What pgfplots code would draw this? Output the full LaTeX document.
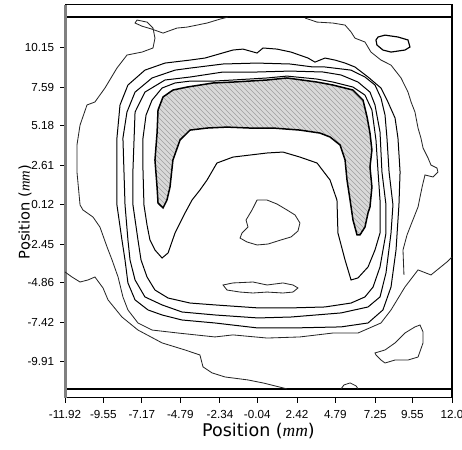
\documentclass[border=0pt]{standalone}
\usepackage{pgfplots}
\pgfplotsset{compat=1.18}
\usepackage{fontspec}
\setmainfont{Liberation Sans}
\newfontfamily\labelfont{DejaVu Sans}
\newfontfamily\seriffont{Liberation Serif}
\usetikzlibrary{patterns}
\begin{document}
\begin{tikzpicture}
\begin{axis}[
  scale only axis, width=232.2pt, height=235.8pt,
  xmin=-11.92, xmax=12.0, ymin=-12.21, ymax=12.83,
  axis line style={black, line width=0.6pt},
  xtick={-11.92,-9.55,-7.17,-4.79,-2.34,-0.04,2.42,4.79,7.25,9.55,12.0},
  xticklabels={-11.92,-9.55,-7.17,-4.79,-2.34,-0.04,2.42,4.79,7.25,9.55,12.0},
  ytick={10.15,7.59,5.18,2.61,0.12,-2.45,-4.86,-7.42,-9.91},
  yticklabels={10.15,7.59,5.18,2.61,0.12,-2.45,-4.86,-7.42,-9.91},
  tick align=outside, xtick pos=bottom, ytick pos=left,
  major tick length=3pt, tick style={black, line width=0.6pt},
  xticklabel style={font=\fontsize{7}{8}\selectfont, yshift=-1pt},
  yticklabel style={font=\fontsize{7}{8}\selectfont},
  xlabel={Position ({\seriffont\itshape mm})},
  ylabel={Position ({\seriffont\itshape mm})},
  xlabel style={at={(axis description cs:0.5,-0.084)}, anchor=center, font=\labelfont\fontsize{10.5}{12}\selectfont},
  ylabel style={at={(axis description cs:-0.103,0.473)}, anchor=center, font=\labelfont\fontsize{8.8}{10}\selectfont},
  clip=false,
]
% frame details
\addplot[black, line width=0.9pt] coordinates {(-11.92,12.06) (12.0,12.06)};
\addplot[black, line width=0.9pt] coordinates {(-11.92,-11.63) (12.0,-11.63)};
\addplot[gray, line width=1.8pt] coordinates {(-11.92,-12.21) (-11.92,12.83)};
\addplot[black, line width=1.2pt] coordinates {(12.0,-12.21) (12.0,12.83)};

% hatched region
\addplot[fill=gray!30, draw=none] coordinates {
(-5.86,6.97) (-5.25,7.41) (-4.38,7.60) (-2.77,7.86) (-1.54,7.92) (0.57,8.05) (1.80,8.18) (3.66,7.92) (4.64,7.73) (5.88,7.41)
(6.50,6.77) (6.75,5.69) (6.93,4.67) (7.05,3.59) (6.93,2.51) (7.05,1.23) (6.93,-0.04) (6.81,-0.42) (6.62,-1.32) (6.31,-1.82)
(6.13,-1.82) (5.88,-0.87) (5.70,0.40) (5.51,1.68) (5.39,2.95) (5.08,3.91) (4.46,4.42) (3.84,4.67) (2.60,4.86) (0.94,4.99)
(-0.49,4.99) (-1.91,5.05) (-3.14,4.99) (-4.19,4.86) (-4.81,4.23) (-5.25,2.95) (-5.43,1.23) (-5.62,0.40) (-5.86,-0.10)
(-6.17,0.21) (-6.23,1.23) (-6.36,2.95) (-6.23,4.67) (-6.17,6.14)} --cycle;
\addplot[pattern=north west lines, pattern color=gray!75, draw=black, line width=0.9pt] coordinates {
(-5.86,6.97) (-5.25,7.41) (-4.38,7.60) (-2.77,7.86) (-1.54,7.92) (0.57,8.05) (1.80,8.18) (3.66,7.92) (4.64,7.73) (5.88,7.41)
(6.50,6.77) (6.75,5.69) (6.93,4.67) (7.05,3.59) (6.93,2.51) (7.05,1.23) (6.93,-0.04) (6.81,-0.42) (6.62,-1.32) (6.31,-1.82)
(6.13,-1.82) (5.88,-0.87) (5.70,0.40) (5.51,1.68) (5.39,2.95) (5.08,3.91) (4.46,4.42) (3.84,4.67) (2.60,4.86) (0.94,4.99)
(-0.49,4.99) (-1.91,5.05) (-3.14,4.99) (-4.19,4.86) (-4.81,4.23) (-5.25,2.95) (-5.43,1.23) (-5.62,0.40) (-5.86,-0.10)
(-6.17,0.21) (-6.23,1.23) (-6.36,2.95) (-6.23,4.67) (-6.17,6.14)} --cycle;

% ring E (U loop)
\addplot[black, line width=0.6pt] coordinates {
(-5.92,-3.29) (-6.36,-2.78) (-6.67,-2.14) (-6.85,-1.19) (-7.04,0.09) (-7.10,2.32) (-7.10,4.35) (-6.91,5.82) (-6.54,6.77)
(-5.92,7.54) (-5.12,7.86) (-4.19,7.98) (-2.77,7.98) (-1.54,8.05) (0.57,8.18) (1.80,8.30) (3.66,8.11) (4.64,7.92) (5.88,7.60)
(6.62,7.09) (7.05,6.14) (7.30,4.23) (7.43,2.19) (7.55,0.40) (7.55,-0.55) (7.55,-1.70) (7.24,-2.78) (6.81,-3.86) (6.19,-4.56)
(5.76,-4.69) (5.39,-3.42) (4.95,-1.70) (4.89,0.40) (4.46,1.68) (3.66,2.76) (2.60,3.14) (1.55,3.46) (0.57,3.40) (-1.54,3.14)
(-2.53,2.76) (-3.14,1.68) (-3.58,1.04) (-4.07,0.40) (-4.50,-0.42) (-5.12,-1.70) (-5.55,-2.97)} --cycle;

% ring D
\addplot[black, line width=0.6pt] coordinates {
(-7.41,-2.14) (-7.72,0.09) (-7.72,2.32) (-7.59,6.01) (-6.98,7.28) (-5.74,8.05) (-4.19,8.24) (-2.15,8.56) (-0.05,8.56)
(1.99,8.62) (4.03,8.56) (5.14,8.37) (6.19,7.92) (6.93,7.28) (7.24,6.46) (7.55,4.74) (7.67,2.19) (7.92,0.09) (7.92,-1.70)
(7.55,-3.86) (7.12,-5.14) (6.62,-5.77) (5.76,-6.16) (4.15,-6.41) (2.05,-6.47) (0.01,-6.47) (-2.65,-6.28) (-4.19,-6.16)
(-5.55,-5.84) (-6.36,-5.33) (-6.85,-4.50) (-7.22,-3.42)} --cycle;

% ring C
\addplot[black, line width=0.6pt] coordinates {
(-8.03,-2.14) (-8.21,0.09) (-8.34,4.35) (-8.09,6.01) (-7.59,7.28) (-6.54,8.18) (-5.12,8.68) (-4.19,8.81) (-2.15,9.07)
(-0.05,9.13) (1.99,9.07) (3.41,8.88) (4.15,8.88) (5.76,8.68) (6.62,8.24) (7.24,7.73) (7.61,6.90) (7.86,5.82) (7.98,4.35)
(8.11,2.19) (8.35,0.09) (8.23,-1.70) (7.92,-4.24) (7.55,-5.77) (6.81,-6.41) (5.14,-6.79) (2.05,-7.05) (0.01,-7.11)
(-2.65,-6.92) (-4.69,-6.73) (-5.92,-6.28) (-6.98,-5.77) (-7.59,-4.69) (-7.90,-3.42)} --cycle;

% ring B
\addplot[black, line width=0.6pt] coordinates {
(-8.40,-2.14) (-8.71,0.09) (-8.71,2.32) (-8.71,4.35) (-8.52,6.46) (-8.03,7.73) (-6.98,8.68) (-5.74,9.13) (-4.19,9.32)
(-3.27,9.45) (-1.54,9.96) (-0.92,10.02) (-0.05,9.77) (0.32,10.09) (1.18,10.02) (2.05,9.83) (3.10,9.45) (3.53,9.19)
(4.15,9.45) (4.77,9.32) (5.39,9.13) (6.00,8.88) (6.81,8.24) (7.61,7.54) (8.04,6.65) (8.48,5.63) (8.66,4.35) (8.79,2.19)
(8.72,0.09) (8.54,-2.78) (8.23,-5.14) (7.73,-6.60) (6.81,-7.43) (5.14,-7.68) (2.05,-7.75) (0.01,-7.75) (-2.65,-7.43)
(-4.69,-7.24) (-5.92,-6.92) (-6.79,-6.60) (-7.59,-5.96) (-8.03,-4.88) (-8.21,-3.42)} --cycle;

% outer contour, main piece
\addplot[black!85, line width=0.5pt] coordinates {
(-1.85,12.06) (-2.34,11.93) (-3.14,11.68) (-4.38,11.42) (-5.00,11.36) (-5.86,11.04) (-6.54,11.29) (-7.16,11.48)
(-7.59,11.68) (-7.47,11.87) (-6.85,11.74) (-6.48,11.36) (-6.36,10.72) (-6.48,10.09) (-7.16,9.83) (-8.09,9.64)
(-8.71,8.81) (-9.45,7.54) (-10.07,6.65) (-10.56,6.46) (-10.99,5.18) (-11.18,3.91) (-11.18,2.19) (-10.99,0.09)
(-10.81,-0.23) (-10.19,-0.68) (-9.76,-1.32) (-9.32,-2.59) (-9.01,-3.42) (-8.64,-4.50) (-8.34,-5.77) (-8.03,-6.60)
(-7.41,-7.43) (-6.54,-7.88) (-4.94,-8.07) (-2.65,-8.32) (-1.54,-8.19) (0.57,-8.39) (2.60,-8.32) (4.64,-8.07)
(6.19,-8.07) (7.61,-7.43) (8.23,-6.60) (9.09,-5.14) (9.90,-4.05) (10.70,-4.37) (11.69,-3.54) (12.00,-3.23)};

% outer contour, top right piece
\addplot[black!85, line width=0.5pt] coordinates {
(2.91,12.00) (3.66,11.74) (4.64,11.68) (5.39,11.55) (5.76,11.11) (6.00,10.72) (6.62,10.47) (6.99,9.83) (7.61,9.32)
(8.23,9.00) (8.85,8.18) (9.28,7.28) (9.47,6.65) (9.71,6.01) (9.90,4.99) (10.08,4.35) (10.21,3.72) (10.52,3.08)
(10.70,2.63) (11.07,2.44) (11.13,2.19) (10.83,1.87) (10.33,2.00) (10.15,1.23) (9.90,-0.04) (9.53,-1.00) (9.22,-1.82)
(8.97,-2.78) (9.03,-4.37)};

% outer contour, bottom left piece
\addplot[black!85, line width=0.5pt] coordinates {
(-11.92,-4.18) (-11.49,-4.50) (-10.99,-4.82) (-10.50,-4.69) (-10.07,-4.50) (-9.57,-5.20) (-9.26,-5.96) (-8.40,-7.05)
(-7.41,-7.88) (-5.92,-8.70) (-4.50,-9.15) (-3.58,-9.47) (-3.39,-10.23) (-2.83,-10.61) (-2.03,-10.87) (-0.61,-11.06)
(0.32,-11.25) (1.80,-11.63)};

% small bump at bottom
\addplot[black!85, line width=0.5pt] coordinates {(5.14,-11.63) (5.32,-11.38) (5.70,-11.25) (6.07,-11.44) (6.19,-11.63)};

% bottom right island
\addplot[black!85, line width=0.5pt] coordinates {
(7.24,-9.34) (7.86,-9.15) (8.48,-8.70) (9.09,-8.07) (9.71,-7.68) (10.02,-7.56) (10.21,-8.00) (10.21,-8.70)
(9.90,-9.60) (9.28,-9.79) (8.48,-9.79) (7.86,-9.98) (7.61,-9.79) (7.30,-9.47)} --cycle;

% top right island
\addplot[black, line width=0.7pt] coordinates {
(7.43,10.79) (7.86,10.91) (8.66,10.79) (9.28,10.60) (9.40,10.15) (9.09,9.96) (8.23,9.83) (7.73,9.96) (7.36,10.28) (7.30,10.60)} --cycle;

% centre island
\addplot[black!85, line width=0.5pt] coordinates {
(-0.05,0.40) (0.57,0.40) (1.18,0.15) (1.80,-0.23) (2.30,-0.55) (2.60,-1.06) (2.48,-1.57) (2.05,-1.95) (1.43,-2.14)
(0.63,-2.40) (-0.05,-2.46) (-0.67,-2.27) (-1.10,-2.02) (-0.98,-1.70) (-0.61,-1.32) (-0.73,-0.87) (-0.36,-0.23)} --cycle;

% bottom centre ellipse
\addplot[black!85, line width=0.5pt] coordinates {
(-2.15,-5.01) (-1.54,-4.88) (-0.30,-4.82) (0.57,-5.01) (1.55,-4.88) (2.17,-5.01) (2.48,-5.20) (2.17,-5.46)
(1.55,-5.52) (0.57,-5.46) (-0.30,-5.52) (-1.10,-5.46) (-1.91,-5.33)} --cycle;
\end{axis}
\pgfresetboundingbox
\path ([xshift=-39pt,yshift=-30.6pt]current axis.south west) rectangle ([xshift=6pt,yshift=3pt]current axis.north east);
\end{tikzpicture}
\end{document}
